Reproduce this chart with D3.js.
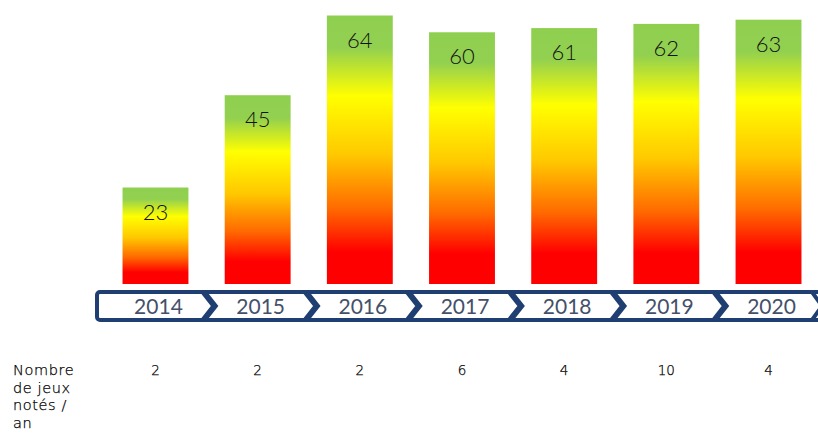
<!DOCTYPE html>
<html>
<head>
<meta charset="utf-8">
<script src="https://cdn.jsdelivr.net/npm/d3@7"></script>
<style>
  html, body { margin: 0; padding: 0; background: #ffffff; }
  svg { display: block; }
</style>
</head>
<body>
<svg id="chart" width="818" height="440"></svg>
<script>
// ---- data ----
const years = ["2014", "2015", "2016", "2017", "2018", "2019", "2020"];
const scores = [23, 45, 64, 60, 61, 62, 63];
const gamesRated = [2, 2, 2, 6, 4, 10, 4];
const rowLabelLines = ["Nombre", "de jeux", "notés /", "an"];

// ---- layout ----
const svg = d3.select("#chart");
const baseY = 284;

const x = d3.scaleBand()
  .domain(years)
  .range([104.4, 819.6])
  .paddingInner(0.355)
  .paddingOuter(0.1775);

const y = d3.scaleLinear()
  .domain([0, 64])
  .range([baseY, 15.5]);

// gradient (per bar bounding box)
const defs = svg.append("defs");
const grad = defs.append("linearGradient")
  .attr("id", "barGrad")
  .attr("x1", 0).attr("y1", 0).attr("x2", 0).attr("y2", 1);
[
  [0.00, "#8fcf50"],
  [0.12, "#92d050"],
  [0.30, "#ffff00"],
  [0.52, "#ffc800"],
  [0.72, "#ff6a00"],
  [0.88, "#ff0000"],
  [1.00, "#ff0000"]
].forEach(([o, c]) => grad.append("stop").attr("offset", o).attr("stop-color", c));

const data = years.map((yr, i) => ({ year: yr, score: scores[i], count: gamesRated[i] }));

// bars
svg.append("g").selectAll("rect")
  .data(data)
  .join("rect")
  .attr("x", d => x(d.year))
  .attr("y", d => y(d.score))
  .attr("width", x.bandwidth())
  .attr("height", d => y(0) - y(d.score))
  .attr("fill", "url(#barGrad)");

// value labels
svg.append("g").selectAll("text")
  .data(data)
  .join("text")
  .attr("x", d => x(d.year) + x.bandwidth() / 2)
  .attr("y", d => y(d.score) + 32)
  .attr("text-anchor", "middle")
  .attr("font-family", "Lato, 'Open Sans', sans-serif")
  .attr("font-weight", 300)
  .attr("font-size", 22)
  .attr("fill", "#111111")
  .text(d => d.score);

// chevron timeline band
const band = svg.append("g");
const bandTop = 292, bandBot = 320;
band.append("rect")
  .attr("x", 97).attr("y", bandTop)
  .attr("width", 740).attr("height", bandBot - bandTop)
  .attr("rx", 3)
  .attr("fill", "#ffffff")
  .attr("stroke", "#1f3f72")
  .attr("stroke-width", 4);

const step = x.step();
band.selectAll("path.chev")
  .data(years.slice(0, -1))
  .join("path")
  .attr("class", "chev")
  .attr("d", d => {
    const bx = x(d) + x.bandwidth() / 2 + step / 2 - 3;
    return `M${bx},${bandTop} L${bx + 11},${(bandTop + bandBot) / 2} L${bx},${bandBot}`;
  })
  .attr("fill", "none")
  .attr("stroke", "#1f3f72")
  .attr("stroke-width", 6)
  .attr("stroke-linejoin", "miter");

// right end chevron
band.append("path")
  .attr("d", `M812,${bandTop} L822,${(bandTop + bandBot) / 2} L812,${bandBot}`)
  .attr("fill", "none")
  .attr("stroke", "#1f3f72")
  .attr("stroke-width", 4);

band.selectAll("text")
  .data(years)
  .join("text")
  .attr("x", d => x(d) + x.bandwidth() / 2 + 3)
  .attr("y", 314)
  .attr("text-anchor", "middle")
  .attr("font-family", "Lato, 'Open Sans', sans-serif")
  .attr("font-weight", 400)
  .attr("font-size", 21)
  .attr("fill", "#44506a")
  .text(d => d);

// bottom row: number of rated games per year
const row = svg.append("g");
row.append("text")
  .attr("x", 13)
  .attr("y", 375)
  .attr("font-family", "'DejaVu Sans', sans-serif")
  .attr("font-weight", 200)
  .attr("font-size", 14.5)
  .attr("letter-spacing", 0.6)
  .attr("fill", "#000000")
  .attr("stroke", "#000000")
  .attr("stroke-width", 0.25)
  .selectAll("tspan")
  .data(rowLabelLines)
  .join("tspan")
  .attr("x", 13)
  .attr("dy", (d, i) => i === 0 ? 0 : 17.5)
  .text(d => d);

row.selectAll("text.count")
  .data(data)
  .join("text")
  .attr("class", "count")
  .attr("x", d => x(d.year) + x.bandwidth() / 2)
  .attr("y", 375)
  .attr("text-anchor", "middle")
  .attr("font-family", "'DejaVu Sans', sans-serif")
  .attr("font-weight", 200)
  .attr("font-size", 13.5)
  .attr("fill", "#000000")
  .attr("stroke", "#000000")
  .attr("stroke-width", 0.25)
  .text(d => d.count);
</script>
</body>
</html>
